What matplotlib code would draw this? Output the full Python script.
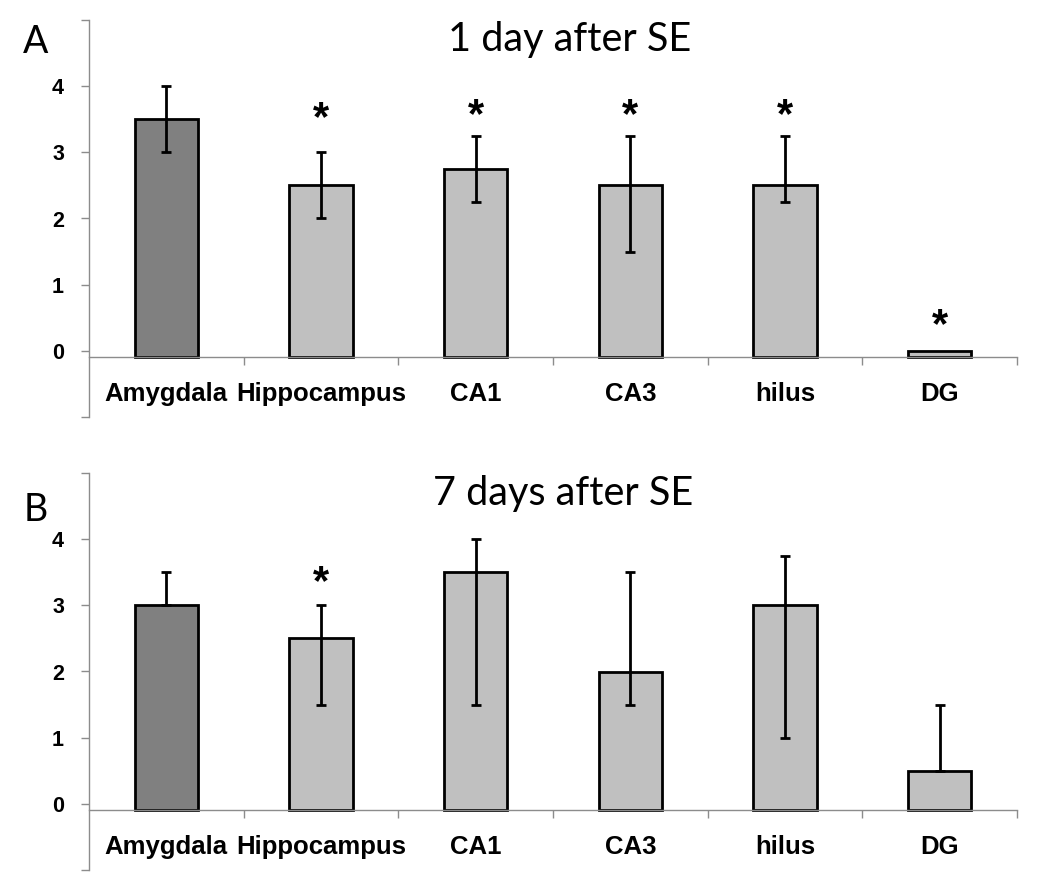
import matplotlib
matplotlib.use("Agg")
import matplotlib.pyplot as plt
import numpy as np

categories = ["Amygdala", "Hippocampus", "CA1", "CA3", "hilus", "DG"]

# Panel A: 1 day after SE
values_a = [3.5, 2.5, 2.75, 2.5, 2.5, 0.0]
err_low_a = [3.0, 2.0, 2.25, 1.5, 2.25, 0.0]   # lower end of error bar
err_high_a = [4.0, 3.0, 3.25, 3.25, 3.25, 0.0]  # upper end of error bar
star_a = [None, 3.5, 3.55, 3.55, 3.55, 0.38]

# Panel B: 7 days after SE
values_b = [3.0, 2.5, 3.5, 2.0, 3.0, 0.5]
err_low_b = [3.0, 1.5, 1.5, 1.5, 1.0, 0.5]
err_high_b = [3.5, 3.0, 4.0, 3.5, 3.75, 1.5]
star_b = [None, 3.33, None, None, None, None]

titles = ["1 day after SE", "7 days after SE"]
panel_letters = ["A", "B"]
ytick_vals = [-1, 0, 1, 2, 3, 4, 5]
ytick_labels = ["", "0", "1", "2", "3", "4", ""]
axis_cross = -0.1

colors = ["#808080", "#c0c0c0", "#c0c0c0", "#c0c0c0", "#c0c0c0", "#c0c0c0"]
spine_col = "#8c8c8c"

W, H = 1050, 888
fig = plt.figure(figsize=(W / 100, H / 100), dpi=100)

def px_axes(left, top, right, bottom):
    return fig.add_axes([left / W, 1 - bottom / H, (right - left) / W, (bottom - top) / H])

axA = px_axes(89, 20, 1017, 417)
axB = px_axes(89, 473, 1017, 870)

panels = [
    (axA, values_a, err_low_a, err_high_a, star_a),
    (axB, values_b, err_low_b, err_high_b, star_b),
]

x = np.arange(len(categories))
for i, (ax, vals, lo, hi, stars) in enumerate(panels):
    for s in ["top", "right"]:
        ax.spines[s].set_visible(False)
    ax.spines["bottom"].set_position(("data", axis_cross))
    ax.spines["left"].set_color(spine_col)
    ax.spines["bottom"].set_color(spine_col)
    ax.spines["left"].set_linewidth(1)
    ax.spines["bottom"].set_linewidth(1)

    vals = np.array(vals)
    lo = np.array(lo)
    hi = np.array(hi)
    ax.bar(x, vals - axis_cross, bottom=axis_cross, width=0.41, color=colors,
           edgecolor="black", linewidth=2.0, zorder=2)
    has_err = (hi - lo) > 0
    yerr = np.vstack([vals - lo, hi - vals])
    ax.errorbar(x[has_err], vals[has_err], yerr=yerr[:, has_err], fmt="none",
                ecolor="black", elinewidth=2.0, capsize=3.5, capthick=2.0, zorder=3)
    for xi, s in zip(x, stars):
        if s is not None:
            ax.text(xi, s, "*", ha="center", va="center", fontsize=30,
                    fontweight="bold", fontfamily="Liberation Sans", color="black")
    ax.set_xlim(-0.5, 5.5)
    ax.set_ylim(-1, 5)
    ax.set_yticks(ytick_vals)
    ax.set_yticklabels(ytick_labels, fontsize=15.5, fontweight="bold",
                       fontfamily="Liberation Sans")
    ax.set_xticks(x)
    ax.set_xticks(np.arange(0.5, 6.0, 1.0), minor=True)
    ax.set_xticklabels(categories, fontsize=18.5, fontweight="bold",
                       fontfamily="Liberation Sans")
    ax.tick_params(axis="x", which="major", length=0, pad=18)
    ax.tick_params(axis="x", which="minor", length=6, color=spine_col, width=1)
    ax.tick_params(axis="y", length=6, color=spine_col, width=1, pad=12)
    ax.set_facecolor("none")

fig.text(570 / W, 1 - 40 / H, titles[0], ha="center", va="center", fontsize=28.5,
         fontfamily="Lato")
fig.text(563 / W, 1 - 493 / H, titles[1], ha="center", va="center", fontsize=28.5,
         fontfamily="Lato")
fig.text(36 / W, 1 - 42 / H, panel_letters[0], ha="center", va="center", fontsize=27,
         fontfamily="Lato")
fig.text(36 / W, 1 - 510 / H, panel_letters[1], ha="center", va="center", fontsize=27,
         fontfamily="Lato")

fig.savefig("out.png", dpi=100, facecolor="white")
